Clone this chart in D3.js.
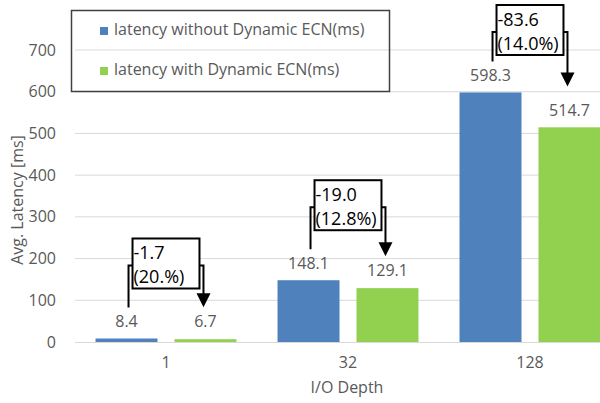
<!DOCTYPE html>
<html>
<head>
<meta charset="utf-8">
<script src="https://cdn.jsdelivr.net/npm/d3@7"></script>
<style>
  html, body { margin: 0; padding: 0; background: #fff; }
  svg { display: block; font-family: "Open Sans", "Noto Sans", sans-serif; }
</style>
</head>
<body>
<svg id="chart" width="600" height="403"></svg>
<script>
// I/O depth groups and the two latency series (ms)
const categories = ["1", "32", "128"];
const seriesNames = ["latency without Dynamic ECN(ms)", "latency with Dynamic ECN(ms)"];
const withoutEcn = [8.4, 148.1, 598.3];
const withEcn = [6.7, 129.1, 514.7];
const yTicks = [0, 100, 200, 300, 400, 500, 600, 700];
// change callouts per group
const deltaLabels = ["-1.7", "-19.0", "-83.6"];
const deltaPercents = ["(20.%)", "(12.8%)", "(14.0%)"];

const colors = ["#4f81bd", "#92d050"];
const textGray = "#595959";
const labelFont = "16px";

const svg = d3.select("#chart");

const x = d3.scaleBand().domain(categories).range([75, 621]).padding(0);
const xInner = d3.scaleBand().domain([0, 1]).range([0, x.bandwidth()])
  .paddingInner(0.215).paddingOuter(0.26);
const y = d3.scaleLinear().domain([0, 700]).range([342, 50]);

// gridlines
svg.append("g")
  .selectAll("line")
  .data(yTicks.filter(d => d > 0))
  .join("line")
  .attr("x1", 75).attr("x2", 600)
  .attr("y1", d => y(d)).attr("y2", d => y(d))
  .attr("stroke", "#d9d9d9").attr("stroke-width", 1);

// y axis labels (no domain line)
const yAxis = d3.axisLeft(y).tickValues(yTicks).tickSize(0).tickPadding(19);
svg.append("g")
  .attr("transform", "translate(75,0)")
  .call(yAxis)
  .call(g => g.select(".domain").remove())
  .selectAll("text")
  .attr("fill", textGray)
  .style("font-size", labelFont)
  .style("font-family", "'Open Sans', sans-serif");

// bars
const groups = categories.map((c, i) => ({ cat: c, vals: [withoutEcn[i], withEcn[i]] }));
const gBars = svg.append("g");
groups.forEach(g => {
  g.vals.forEach((v, s) => {
    gBars.append("rect")
      .attr("x", x(g.cat) + xInner(s))
      .attr("y", y(v))
      .attr("width", xInner.bandwidth())
      .attr("height", y(0) - y(v))
      .attr("fill", colors[s]);
  });
});

// x axis baseline and labels
const xAxis = d3.axisBottom(x).tickSize(0).tickPadding(15);
svg.append("g")
  .attr("transform", `translate(0,${y(0)})`)
  .call(xAxis)
  .call(g => g.select(".domain").attr("stroke", "#d9d9d9").attr("d", "M75,0.5H600"))
  .selectAll("text")
  .attr("fill", textGray)
  .style("font-size", labelFont)
  .style("font-family", "'Open Sans', sans-serif");

// value labels
const valueLabelPos = [];
groups.forEach((g, gi) => {
  const pos = [];
  g.vals.forEach((v, s) => {
    const cx = x(g.cat) + xInner(s) + xInner.bandwidth() / 2;
    const cy = y(v) - 16;
    svg.append("text")
      .attr("x", cx).attr("y", cy)
      .attr("text-anchor", "middle")
      .attr("dominant-baseline", "middle")
      .attr("fill", textGray)
      .style("font-size", labelFont)
      .text(v.toFixed(1));
    pos.push({ cx, cy });
  });
  valueLabelPos.push(pos);
});

// callouts: bracket from first bar's label to an arrow above the second bar's label
const ann = svg.append("g");
groups.forEach((g, gi) => {
  const [a, b] = valueLabelPos[gi];
  const lx = a.cx + 2;
  const rx = b.cx - 2;
  const boxTop = Math.max(a.cy - 84, 5);
  const level = boxTop + 27;
  const leftEnd = a.cy - 15;
  const tipY = Math.min(b.cy - 16, a.cy + 10);
  const boxL = lx + 4, boxR = rx - 4;

  ann.append("path")
    .attr("d", `M${lx},${leftEnd}V${level}H${boxL}`)
    .attr("fill", "none").attr("stroke", "#000").attr("stroke-width", 2);
  ann.append("path")
    .attr("d", `M${boxR},${level}H${rx}V${tipY - 12}`)
    .attr("fill", "none").attr("stroke", "#000").attr("stroke-width", 2);
  ann.append("path")
    .attr("d", `M${rx - 7},${tipY - 14}L${rx + 7},${tipY - 14}L${rx},${tipY}Z`)
    .attr("fill", "#000");
  ann.append("rect")
    .attr("x", boxL).attr("y", boxTop)
    .attr("width", boxR - boxL).attr("height", 50)
    .attr("fill", "#fff").attr("stroke", "#000").attr("stroke-width", 2);
  const t = ann.append("text")
    .attr("x", boxL + 1).attr("y", boxTop + 21)
    .attr("fill", "#000")
    .style("font-size", "18px");
  t.append("tspan").attr("x", boxL + 1).text(deltaLabels[gi]);
  t.append("tspan").attr("x", boxL + 1).attr("dy", 24).text(deltaPercents[gi]);
});

// legend
const lg = svg.append("g");
lg.append("rect")
  .attr("x", 71.5).attr("y", 10.5).attr("width", 318).attr("height", 81)
  .attr("fill", "none").attr("stroke", "#404040").attr("stroke-width", 1.5);
seriesNames.forEach((name, i) => {
  const cy = 31 + i * 40;
  lg.append("rect")
    .attr("x", 100).attr("y", cy - 4).attr("width", 8).attr("height", 8)
    .attr("fill", colors[i]);
  lg.append("text")
    .attr("x", 114).attr("y", cy)
    .attr("dominant-baseline", "middle")
    .attr("fill", textGray)
    .style("font-size", labelFont)
    .text(name);
});

// axis titles
svg.append("text")
  .attr("transform", "translate(19,200) rotate(-90)")
  .attr("text-anchor", "middle")
  .attr("dominant-baseline", "middle")
  .attr("fill", textGray)
  .style("font-size", labelFont)
  .text("Avg. Latency [ms]");
svg.append("text")
  .attr("x", 347).attr("y", 389)
  .attr("text-anchor", "middle")
  .attr("dominant-baseline", "middle")
  .attr("fill", textGray)
  .style("font-size", labelFont)
  .text("I/O Depth");
</script>
</body>
</html>
